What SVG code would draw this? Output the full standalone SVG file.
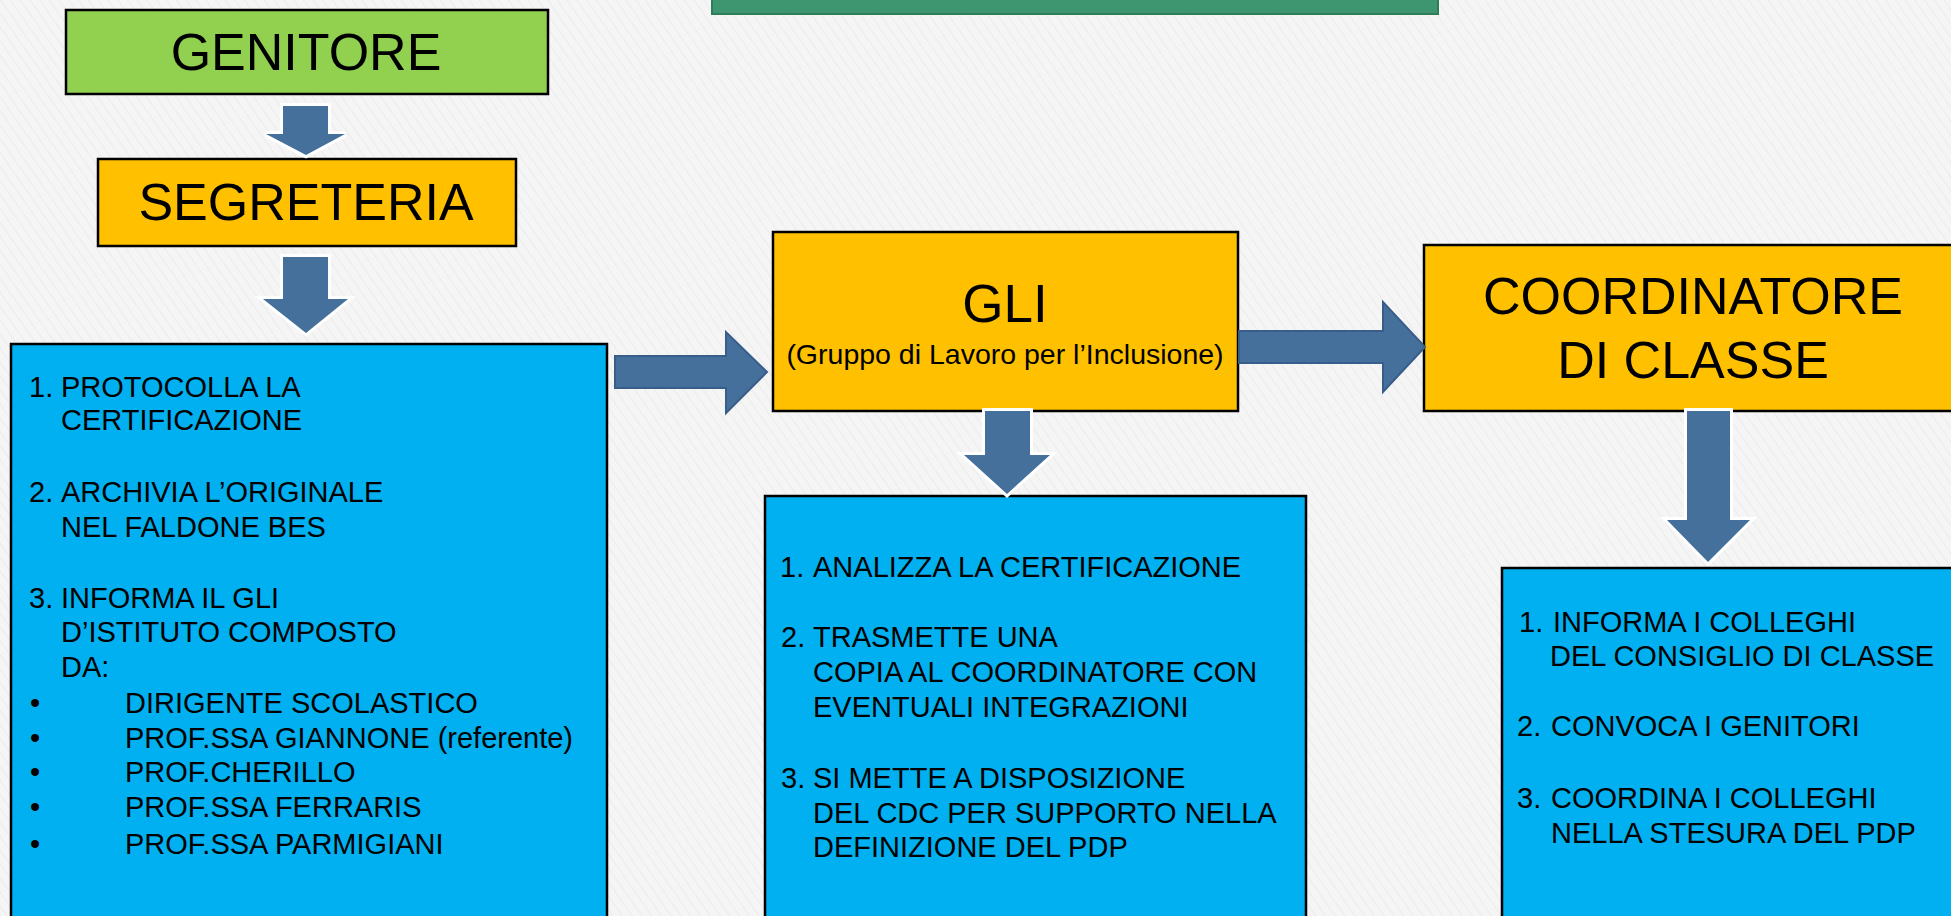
<svg xmlns="http://www.w3.org/2000/svg" width="1951" height="916" viewBox="0 0 1951 916">
  <defs>
    <pattern id="tex" width="8" height="8" patternUnits="userSpaceOnUse" patternTransform="rotate(-35)">
      <rect width="8" height="8" fill="#F5F5F5"/>
      <line x1="0" y1="0" x2="0" y2="8" stroke="#EBEBEB" stroke-width="2"/>
    </pattern>
  </defs>
  <style>
    .box { stroke: #000; stroke-width: 2.5; }
    .green { fill: #92D050; }
    .yellow { fill: #FFC000; }
    .blue { fill: #00B0F0; }
    .t { font-family: "Liberation Sans", Arial, sans-serif; fill: #000; }
    .title { font-size: 52px; text-anchor: middle; }
    .sub { font-size: 28.5px; text-anchor: middle; }
    .body { font-size: 29px; }
    .arrowR { fill: #46709C; stroke: #385D8A; stroke-width: 2; }
    .arrowD { fill: #46709C; stroke: #FFFFFF; stroke-width: 6; paint-order: stroke; stroke-linejoin: miter; }
  </style>

  <rect width="1951" height="916" fill="url(#tex)"/>

  <g id="header">
    <rect x="712" y="-6" width="726" height="20" fill="#3E9671" stroke="#2E7D59" stroke-width="2"/>
  </g>

  <g id="genitore">
    <rect class="box green" x="66" y="10" width="482" height="84"/>
    <text class="t title" x="306" y="70">GENITORE</text>
  </g>

  <g id="segreteria">
    <rect class="box yellow" x="98" y="159" width="418" height="87"/>
    <text class="t title" x="306" y="220">SEGRETERIA</text>
  </g>

  <g id="segreteria-azioni">
    <rect class="box blue" x="11" y="344" width="596" height="600"/>
    <g class="t body">
      <text x="29" y="397">1.</text><text x="61" y="397">PROTOCOLLA LA</text>
      <text x="61" y="430">CERTIFICAZIONE</text>
      <text x="29" y="502">2.</text><text x="61" y="502">ARCHIVIA L’ORIGINALE</text>
      <text x="61" y="537">NEL FALDONE BES</text>
      <text x="29" y="608">3.</text><text x="61" y="608">INFORMA IL GLI</text>
      <text x="61" y="642">D’ISTITUTO COMPOSTO</text>
      <text x="61" y="677">DA:</text>
      <text x="30" y="713">•</text><text x="125" y="713">DIRIGENTE SCOLASTICO</text>
      <text x="30" y="748">•</text><text x="125" y="748">PROF.SSA GIANNONE (referente)</text>
      <text x="30" y="782">•</text><text x="125" y="782">PROF.CHERILLO</text>
      <text x="30" y="817">•</text><text x="125" y="817">PROF.SSA FERRARIS</text>
      <text x="30" y="854">•</text><text x="125" y="854">PROF.SSA PARMIGIANI</text>
    </g>
  </g>

  <g id="gli">
    <rect class="box yellow" x="773" y="232" width="465" height="179"/>
    <text class="t title" x="1005" y="322" style="font-size:53px">GLI</text>
    <text class="t sub" x="1005" y="364">(Gruppo di Lavoro per l’Inclusione)</text>
  </g>

  <g id="gli-azioni">
    <rect class="box blue" x="765" y="496" width="541" height="440"/>
    <g class="t body">
      <text x="780" y="577">1.</text><text x="813" y="577">ANALIZZA LA CERTIFICAZIONE</text>
      <text x="781" y="647">2.</text><text x="813" y="647">TRASMETTE UNA</text>
      <text x="813" y="682">COPIA AL COORDINATORE CON</text>
      <text x="813" y="717">EVENTUALI INTEGRAZIONI</text>
      <text x="781" y="788">3.</text><text x="813" y="788">SI METTE A DISPOSIZIONE</text>
      <text x="813" y="823">DEL CDC PER SUPPORTO NELLA</text>
      <text x="813" y="857">DEFINIZIONE DEL PDP</text>
    </g>
  </g>

  <g id="coordinatore">
    <rect class="box yellow" x="1424" y="245" width="560" height="166"/>
    <text class="t title" x="1693" y="314">COORDINATORE</text>
    <text class="t title" x="1693" y="378">DI CLASSE</text>
  </g>

  <g id="coordinatore-azioni">
    <rect class="box blue" x="1502" y="568" width="480" height="370"/>
    <g class="t body">
      <text x="1519" y="632">1.</text><text x="1553" y="632">INFORMA I COLLEGHI</text>
      <text x="1550" y="666">DEL CONSIGLIO DI CLASSE</text>
      <text x="1517" y="736">2.</text><text x="1551" y="736">CONVOCA I GENITORI</text>
      <text x="1517" y="808">3.</text><text x="1551" y="808">COORDINA I COLLEGHI</text>
      <text x="1551" y="843">NELLA STESURA DEL PDP</text>
    </g>
  </g>

  <g id="connectors">
    <path class="arrowD" d="M283,106 H328 V134 H345 L306,155 L266,134 H283 Z"/>
    <path class="arrowD" d="M283,257 H328 V299 H348 L306,333 L263,299 H283 Z"/>
    <path class="arrowR" d="M615,356 H726 V332 L767,372 L726,413 V388 H615 Z"/>
    <path class="arrowR" d="M1239,331 H1383 V302 L1425,347 L1383,392 V363 H1239 Z"/>
    <path class="arrowD" d="M985,411 H1030 V455 H1050 L1007,494 L964,455 H985 Z"/>
    <path class="arrowD" d="M1687,411 H1730 V520 H1750 L1708,562 L1667,520 H1687 Z"/>
  </g>
</svg>
